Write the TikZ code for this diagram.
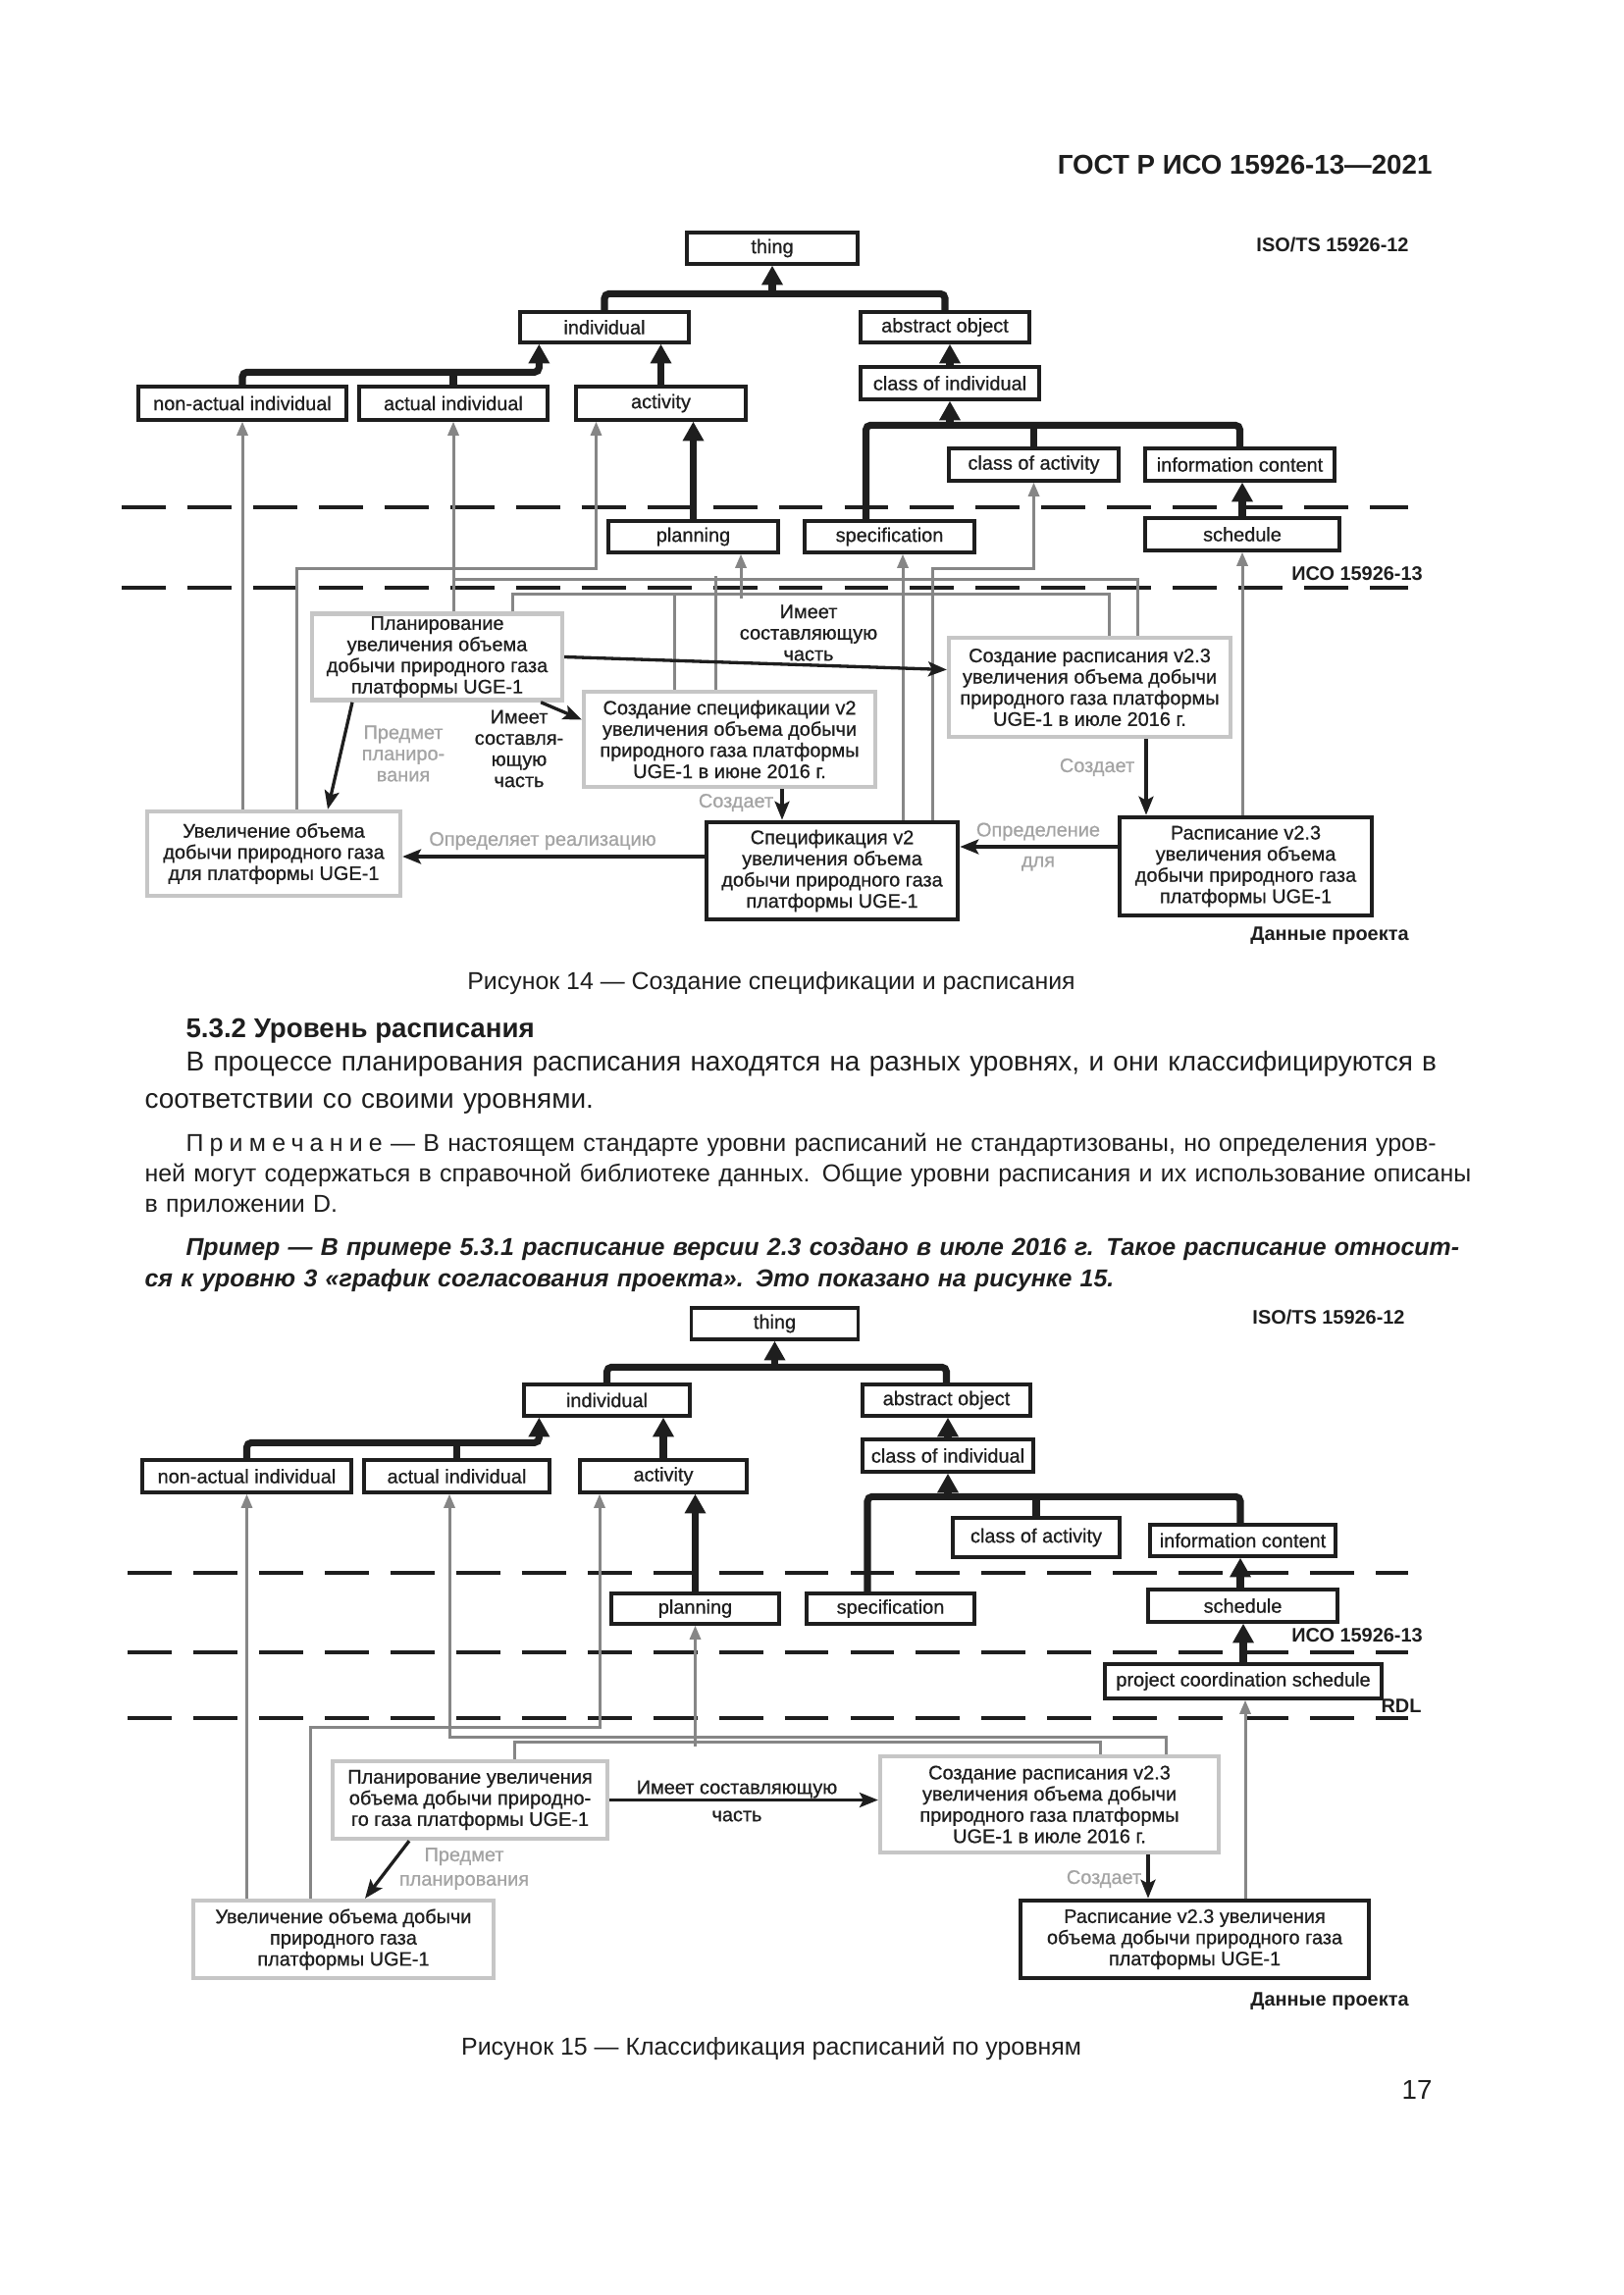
\documentclass[tikz,border=0pt]{standalone}
\usepackage{fontspec}
\setmainfont{Liberation Sans}
\newfontfamily\diagfam[FakeBold=0.7]{Liberation Sans}
\usetikzlibrary{arrows.meta, calc}

\newcommand{\pxu}{0.12696mm}
\newcommand{\diagfont}{\diagfam\fontsize{7.2}{7.8}\selectfont}
\definecolor{ink}{HTML}{1E1E1E}
\definecolor{lnGray}{HTML}{868686}
\definecolor{bxGray}{HTML}{C6C6C6}
\definecolor{lbGray}{HTML}{A4A4A4}

\begin{document}
\begin{tikzpicture}[
    x=\pxu, y=-\pxu,
    sz/.style 2 args={minimum width=#1*\pxu, minimum height=#2*\pxu},
    cls/.style={rectangle, draw=ink, line width=0.42mm, font=\diagfont, text=ink, inner sep=1pt},
    dat/.style={rectangle, draw=bxGray, line width=0.55mm, font=\diagfont, text=ink, align=center, inner sep=1pt},
    prj/.style={rectangle, draw=ink, line width=0.6mm, font=\diagfont, text=ink, align=center, inner sep=1pt},
    bus/.style={draw=ink, line width=0.9mm, rounded corners=0.6mm},
    sub/.style={bus, -{Triangle[length=2.5mm, width=2.6mm]}},
    cln/.style={draw=lnGray, line width=0.38mm},
    clnA/.style={cln, -{Triangle[length=1.8mm, width=1.4mm]}},
    rel/.style={draw=ink, line width=0.42mm, -{Stealth[length=2.4mm, width=1.9mm, inset=0.5mm]}},
    lvl/.style={draw=ink, line width=0.6mm, dash pattern=on 5.7mm off 2.8mm},
    lbl/.style={font=\diagfont, text=lbGray, align=center, inner sep=0pt},
    lbk/.style={font=\diagfont, text=ink, align=center, inner sep=0pt},
    tag/.style={font=\fontsize{7.2}{8.3}\selectfont\bfseries, text=ink, inner sep=0pt},
    para/.style={anchor=north west, inner sep=0pt, align=left, text width=167.5mm, text=ink}
]
    \fill[white] (0,0) rectangle (1654,2339);
    \useasboundingbox (0,0) rectangle (1654,2339);

    % Page text
    \node[anchor=east, inner sep=0pt, text=ink, font=\fontsize{10}{12}\selectfont\bfseries] (hdr) at (1460,168) {ГОСТ Р ИСО 15926-13—2021};
    \node[inner sep=0pt, text=ink, font=\fontsize{9}{11}\selectfont] (cap14) at (786,1002) {Рисунок 14 — Создание спецификации и расписания};
    \node[anchor=west, inner sep=0pt, text=ink, font=\fontsize{10}{12}\selectfont\bfseries] (sec) at (189,1051) {5.3.2 Уровень расписания};
    \node[para, font=\fontsize{10.1}{13.7}\selectfont] (par1) at (147,1071) {\hspace*{5.33mm}\makebox[162.17mm][s]{В процессе планирования расписания находятся на разных уровнях, и они классифицируются в}\\
        соответствии со своими уровнями.};
    \node[para, font=\fontsize{9}{11.2}\selectfont] (note) at (147,1154) {\hspace*{5.33mm}\makebox[162.17mm][s]{{\addfontfeature{LetterSpace=25}Примечание}\ — В настоящем стандарте уровни расписаний не стандартизованы, но определения уров-}\\
        \makebox[167.5mm][s]{ней могут содержаться в справочной библиотеке данных. Общие уровни расписания и их использование описаны}\\
        в приложении D.};
    \node[para, font=\fontsize{9}{11.5}\selectfont\bfseries\itshape] (ex) at (147,1261) {\hspace*{5.33mm}\makebox[162.17mm][s]{Пример — В примере 5.3.1 расписание версии 2.3 создано в июле 2016 г. Такое расписание относит-}\\
        ся к уровню 3 «график согласования проекта». Это показано на рисунке 15.};
    \node[inner sep=0pt, text=ink, font=\fontsize{9}{11}\selectfont] (cap15) at (786,2088) {Рисунок 15 — Классификация расписаний по уровням};
    \node[anchor=east, inner sep=0pt, text=ink, font=\fontsize{10}{12}\selectfont] (pgno) at (1460,2130) {17};

    % Figure 14: levels
    \draw[lvl] (124,517) -- (1435,517);
    \draw[lvl] (124,599) -- (1435,599);
    \node[tag] (aStd12) at (1358,249) {ISO/TS 15926-12};
    \node[tag] (aStd13) at (1383,585) {ИСО 15926-13};
    \node[tag] (aData) at (1355,954) {Данные проекта};

    % Figure 14: classes
    \node[cls, sz={174}{32}] (aThing) at (787,253) {thing};
    \node[cls, sz={172}{31}] (aIndiv) at (616,333.5) {individual};
    \node[cls, sz={172}{31}] (aAbstr) at (963,333.5) {abstract object};
    \node[cls, sz={212}{34}] (aNonAct) at (247,411) {non-actual individual};
    \node[cls, sz={192}{34}] (aActual) at (462,411) {actual individual};
    \node[cls, sz={173}{34}] (aActiv) at (673.5,411) {activity};
    \node[cls, sz={182}{33}] (aClsInd) at (968,390.5) {class of individual};
    \node[cls, sz={173}{33}] (aClsAct) at (1053.5,473.5) {class of activity};
    \node[cls, sz={193}{33}] (aInfo) at (1263.5,473.5) {information content};
    \node[cls, sz={173}{32}] (aPlan) at (706.5,547) {planning};
    \node[cls, sz={173}{32}] (aSpec) at (906.5,547) {specification};
    \node[cls, sz={198}{33}] (aSched) at (1266,544.5) {schedule};

    % Figure 14: project data
    \node[dat, sz={255}{85}] (aPlanning) at (445.5,669.5) {Планирование\\увеличения объема\\добычи природного газа\\платформы UGE-1};
    \node[dat, sz={297}{97}] (aMakeSpec) at (743.5,753.5) {Создание спецификации v2\\увеличения объема добычи\\природного газа платформы\\UGE-1 в июне 2016 г.};
    \node[dat, sz={287}{101}] (aMakeSched) at (1110.5,700.5) {Создание расписания v2.3\\увеличения объема добычи\\природного газа платформы\\UGE-1 в июле 2016 г.};
    \node[dat, sz={258}{86}] (aIncrease) at (279,870) {Увеличение объема\\добычи природного газа\\для платформы UGE-1};
    \node[prj, sz={256}{99}] (aSpecV2) at (848,887.5) {Спецификация v2\\увеличения объема\\добычи природного газа\\платформы UGE-1};
    \node[prj, sz={257}{100}] (aSchedV23) at (1269.5,883) {Расписание v2.3\\увеличения объема\\добычи природного газа\\платформы UGE-1};

    % Figure 14: specialisation
    \draw[bus] (aIndiv.north) -- ++(0,-17) -| (aAbstr.north);
    \draw[sub] ($(aThing.south)+(0,32)$) -- (aThing.south);
    \draw[sub] (aNonAct.north) -- ++(0,-13) -| ($(aIndiv.south west)+(21,0)$);
    \draw[bus] (aActual.north) -- ++(0,-13);
    \draw[sub] (aActiv.north) -- (aActiv.north |- aIndiv.south);
    \draw[sub] (aClsInd.north) -- (aClsInd.north |- aAbstr.south);
    \draw[bus] ($(aSpec.north)+(-24,0)$) |- ($(aInfo.north)+(0,-22)$) -- (aInfo.north);
    \draw[bus] (aClsAct.north) -- ++(0,-22);
    \draw[sub] ($(aClsInd.south)+(0,28)$) -- (aClsInd.south);
    \draw[sub] (aPlan.north) -- (aPlan.north |- aActiv.south);
    \draw[sub] (aSched.north) -- (aSched.north |- aInfo.south);

    % Figure 14: classification
    \draw[clnA] (aIncrease.north -| aNonAct.south) -- (aNonAct.south);
    \draw[clnA] ($(aIncrease.north)+(23,0)$) |- ($(aActiv.south)+(-66,150)$) -- ($(aActiv.south)+(-66,0)$);
    \draw[clnA] (aPlanning.north -| aActual.south) -- (aActual.south);
    \draw[cln] ($(aMakeSched.north)+(48.5,0)$) |- ($(aActual.south)+(0,161)$);
    \draw[cln] ($(aMakeSpec.north)+(-14.5,0)$) -- ++(0,-116);
    \draw[cln] ($(aPlanning.north)+(76.5,0)$) |- ($(aMakeSched.north)+(19.5,-42)$) -- ($(aMakeSched.north)+(19.5,0)$);
    \draw[cln] ($(aMakeSpec.north)+(-56.5,0)$) -- ++(0,-97);
    \draw[clnA] ($(aPlan.south)+(48.5,45)$) -- ($(aPlan.south)+(48.5,0)$);
    \draw[clnA] ($(aSpecV2.north)+(72,0)$) -- ($(aSpec.south)+(13.5,0)$);
    \draw[clnA] ($(aSpecV2.north)+(102,0)$) |- ($(aClsAct.south)+(0,88)$) -- (aClsAct.south);
    \draw[clnA] (aSchedV23.north -| aSched.south) -- (aSched.south);

    % Figure 14: relations
    \draw[rel] (aPlanning.east) -- ($(aMakeSched.west)+(0,-18)$);
    \node[lbk] (aHasPart) at (824,645) {Имеет\\составляющую\\часть};
    \draw[rel] ($(aPlanning.south east)+(-24,0)$) -- ($(aMakeSpec.west)+(0,-20)$);
    \node[lbk] (aHasPartB) at (529,763) {Имеет\\составля-\\ющую\\часть};
    \draw[rel] ($(aPlanning.south)+(-86.5,0)$) -- ($(aIncrease.north)+(55,0)$);
    \node[lbl] (aSubject) at (411,768) {Предмет\\планиро-\\вания};
    \draw[rel] ($(aMakeSpec.south)+(53.5,0)$) -- ($(aSpecV2.north)+(-51,0)$);
    \node[lbl] (aCreatesA) at (750,818) {Создает};
    \draw[rel] ($(aSpecV2.west)+(0,-14.5)$) -- ($(aIncrease.east)+(0,3)$);
    \node[lbl] (aDefines) at (553,857) {Определяет реализацию};
    \draw[rel] ($(aMakeSched.south)+(57.5,0)$) -- ($(aSchedV23.north)+(-101.5,0)$);
    \node[lbl] (aCreatesB) at (1118,782) {Создает};
    \draw[rel] ($(aSchedV23.west)+(0,-20)$) -- ($(aSpecV2.east)+(0,-24.5)$);
    \node[lbl] (aDefFor) at (1058,863) {Определение\\[1.2mm]для};

    % Figure 15: levels
    \draw[lvl] (130,1603) -- (1435,1603);
    \draw[lvl] (130,1684) -- (1435,1684);
    \draw[lvl] (130,1751) -- (1435,1751);
    \node[tag] (bStd12) at (1354,1342) {ISO/TS 15926-12};
    \node[tag] (bStd13) at (1383,1667) {ИСО 15926-13};
    \node[tag] (bRdl) at (1428,1739) {RDL};
    \node[tag] (bData) at (1355,2040) {Данные проекта};

    % Figure 15: classes
    \node[cls, sz={170}{32}] (bThing) at (789.5,1349) {thing};
    \node[cls, sz={169}{32}] (bIndiv) at (618.5,1427) {individual};
    \node[cls, sz={171}{32}] (bAbstr) at (964.5,1427) {abstract object};
    \node[cls, sz={174}{33}] (bClsInd) at (966,1483.5) {class of individual};
    \node[cls, sz={213}{33}] (bNonAct) at (251.5,1504.5) {non-actual individual};
    \node[cls, sz={189}{33}] (bActual) at (465.5,1504.5) {actual individual};
    \node[cls, sz={170}{33}] (bActiv) at (676,1504.5) {activity};
    \node[cls, sz={170}{40}] (bClsAct) at (1056,1567) {class of activity};
    \node[cls, sz={189}{32}] (bInfo) at (1266.5,1570) {information content};
    \node[cls, sz={171}{31}] (bPlan) at (708.5,1639.5) {planning};
    \node[cls, sz={171}{31}] (bSpec) at (907.5,1639.5) {specification};
    \node[cls, sz={193}{33}] (bSched) at (1266.5,1636.5) {schedule};
    \node[cls, sz={282}{35}] (bCoord) at (1267,1713.5) {project coordination schedule};

    % Figure 15: project data
    \node[dat, sz={280}{79}] (bPlanning) at (479,1834.5) {Планирование увеличения\\объема добычи природно-\\го газа платформы UGE-1};
    \node[dat, sz={345}{98}] (bMakeSched) at (1069.5,1839) {Создание расписания v2.3\\увеличения объема добычи\\природного газа платформы\\UGE-1 в июле 2016 г.};
    \node[dat, sz={306}{79}] (bIncrease) at (350,1976.5) {Увеличение объема добычи\\природного газа\\платформы UGE-1};
    \node[prj, sz={355}{79}] (bSchedV23) at (1217.5,1976.5) {Расписание v2.3 увеличения\\объема добычи природного газа\\платформы UGE-1};

    % Figure 15: specialisation
    \draw[bus] (bIndiv.north) -- ++(0,-16) -| (bAbstr.north);
    \draw[sub] ($(bThing.south)+(0,30)$) -- (bThing.south);
    \draw[sub] (bNonAct.north) -- ++(0,-16) -| ($(bIndiv.south west)+(17,0)$);
    \draw[bus] (bActual.north) -- ++(0,-16);
    \draw[sub] (bActiv.north) -- (bActiv.north |- bIndiv.south);
    \draw[sub] (bClsInd.north) -- (bClsInd.north |- bAbstr.south);
    \draw[bus] ($(bSpec.north)+(-23.5,0)$) |- ($(bInfo.north)+(-2.5,-27)$) -- ($(bInfo.north)+(-2.5,0)$);
    \draw[bus] (bClsAct.north) -- ++(0,-20);
    \draw[sub] ($(bClsInd.south)+(0,27)$) -- (bClsInd.south);
    \draw[sub] (bPlan.north) -- (bPlan.north |- bActiv.south);
    \draw[sub] ($(bSched.north)+(-2.5,0)$) -- ($(bInfo.south)+(-2.5,0)$);
    \draw[sub] (bCoord.north) -- (bCoord.north |- bSched.south);

    % Figure 15: classification
    \draw[clnA] (bIncrease.north -| bNonAct.south) -- (bNonAct.south);
    \draw[clnA] ($(bIncrease.north)+(-34,0)$) |- ($(bActiv.south)+(-65,238)$) -- ($(bActiv.south)+(-65,0)$);
    \draw[clnA] ($(bMakeSched.north)+(118.5,0)$) |- ($(bActual.south)+(-7.5,248)$) -- ($(bActual.south)+(-7.5,0)$);
    \draw[cln] ($(bPlanning.north)+(45,0)$) |- ($(bMakeSched.north)+(51.5,-12)$) -- ($(bMakeSched.north)+(51.5,0)$);
    \draw[clnA] ($(bPlan.south)+(0,123)$) -- (bPlan.south);
    \draw[clnA] ($(bSchedV23.north)+(51.5,0)$) -- ($(bCoord.south)+(2,0)$);

    % Figure 15: relations
    \draw[rel] (bPlanning.east) -- (bPlanning.east -| bMakeSched.west);
    \node[lbk] (bHasPart) at (751,1835.5) {Имеет составляющую\\[0.8mm]часть};
    \draw[rel] ($(bPlanning.south)+(-62,0)$) -- ($(bIncrease.north)+(22,0)$);
    \node[lbl] (bSubject) at (473,1904.5) {Предмет\\[0.4mm]планирования};
    \draw[rel] ($(bMakeSched.south)+(100.5,0)$) -- ($(bSchedV23.north)+(-47.5,0)$);
    \node[lbl] (bCreates) at (1125,1915) {Создает};
\end{tikzpicture}
\end{document}
